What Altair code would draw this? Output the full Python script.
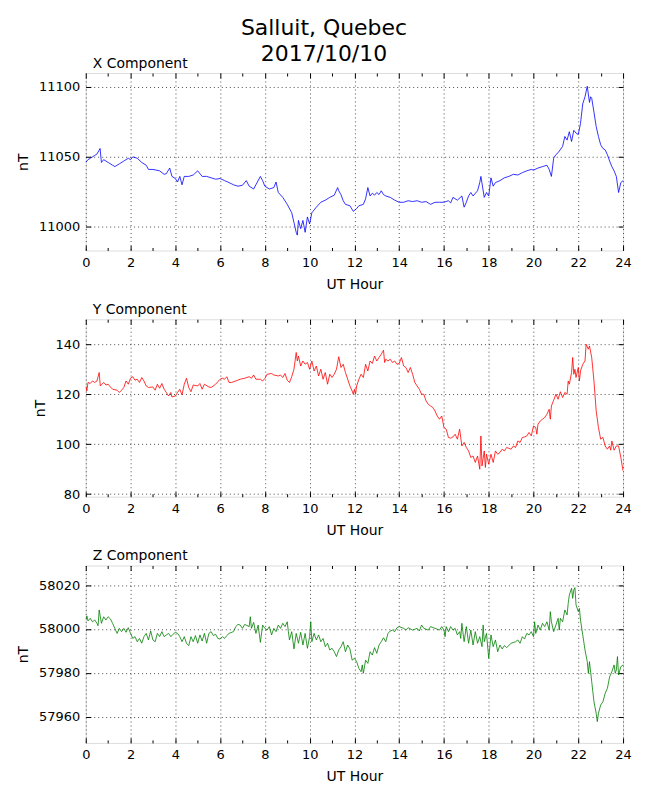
import altair as alt
import pandas as pd

FONT = "DejaVu Sans"

# ---- X component (nT) ----
x_hours = [0.0, 0.1, 0.2, 0.3, 0.4, 0.5, 0.64, 0.7, 0.8, 1.0, 1.2, 1.3, 1.5, 1.7, 1.9, 2.0, 2.1, 2.3, 2.5, 2.7,
           2.8, 3.0, 3.3, 3.5, 3.6, 3.75, 3.85, 4.0, 4.1, 4.2, 4.3, 4.4, 4.6, 4.8, 5.0, 5.2, 5.4, 5.6, 5.8, 6.0,
           6.2, 6.4, 6.6, 6.8, 7.0, 7.17, 7.3, 7.5, 7.6, 7.8, 7.9, 8.0, 8.2, 8.4, 8.5, 8.6, 8.8, 9.0, 9.2, 9.3,
           9.4, 9.45, 9.5, 9.6, 9.7, 9.8, 9.9, 10.0, 10.1, 10.3, 10.5, 10.7, 10.9, 11.1, 11.25, 11.3, 11.4, 11.5, 11.6, 11.8,
           11.95, 12.1, 12.2, 12.4, 12.5, 12.6, 12.7, 12.8, 12.9, 13.0, 13.1, 13.2, 13.3, 13.4, 13.6, 13.8, 14.0, 14.2, 14.4, 14.6,
           14.8, 15.0, 15.2, 15.4, 15.6, 15.8, 16.0, 16.2, 16.3, 16.4, 16.6, 16.8, 16.9, 17.0, 17.1, 17.2, 17.3, 17.5, 17.6, 17.65,
           17.8, 17.9, 18.0, 18.1, 18.2, 18.3, 18.5, 18.7, 18.9, 19.1, 19.3, 19.5, 19.7, 19.9, 20.0, 20.2, 20.4, 20.6, 20.7, 20.8,
           20.9, 21.0, 21.1, 21.3, 21.4, 21.5, 21.6, 21.7, 21.8, 21.9, 22.0, 22.1, 22.2, 22.3, 22.4, 22.5, 22.55, 22.6, 22.7, 22.8,
           22.9, 23.0, 23.1, 23.2, 23.3, 23.4, 23.5, 23.6, 23.7, 23.8, 23.9, 24.0]
x_values = [11046, 11048, 11049, 11050, 11051, 11052, 11056, 11046, 11048, 11046, 11044, 11043, 11045, 11047, 11049, 11048, 11050, 11049, 11046, 11044,
            11041, 11041, 11040, 11037.5, 11038, 11042, 11036, 11034.5, 11032, 11036, 11030, 11036, 11036, 11037, 11040, 11036, 11036, 11035, 11034, 11034.5,
            11033, 11031.6, 11030, 11029, 11029.7, 11033, 11029, 11027, 11030, 11036, 11033, 11029, 11027, 11028, 11032, 11024.5, 11021, 11016, 11010, 11003,
            10996, 10994, 11004.5, 10998.6, 11004.5, 10996, 11007, 11002, 11010, 11014, 11017.5, 11019, 11021, 11022.6, 11028, 11025.7, 11023, 11018.6, 11016, 11015,
            11011, 11013, 11015, 11016, 11020, 11028, 11022, 11024, 11022.6, 11024.5, 11023, 11025.7, 11023, 11022, 11021, 11019, 11017.5, 11017.5, 11018.6, 11018,
            11018.6, 11017.5, 11018, 11016, 11017.5, 11017.5, 11017.5, 11018.6, 11017, 11021, 11019, 11022, 11014, 11017.5, 11022, 11024.5, 11022, 11025.7, 11031.6, 11036,
            11021, 11024.5, 11022, 11035, 11029, 11031.6, 11033, 11035, 11036, 11037.5, 11037, 11038.7, 11040, 11041, 11040.5, 11042, 11043, 11044, 11041, 11036,
            11049, 11051.6, 11053, 11057.5, 11064.6, 11062, 11068, 11061, 11069, 11067, 11066, 11074, 11088, 11093, 11100.5, 11089, 11093, 11092, 11082, 11071.7,
            11064.6, 11058.7, 11056, 11055, 11051.6, 11047, 11043, 11040, 11036, 11024.5, 11031.6, 11033]

# ---- Y component (nT) ----
y_hours = [0.0, 0.05, 0.1, 0.2, 0.3, 0.4, 0.5, 0.6, 0.65, 0.8, 0.9, 1.0, 1.1, 1.2, 1.4, 1.5, 1.6, 1.7, 1.8, 1.9,
           2.0, 2.1, 2.2, 2.3, 2.4, 2.5, 2.6, 2.7, 2.8, 3.0, 3.1, 3.2, 3.3, 3.4, 3.5, 3.6, 3.7, 3.8, 3.85, 4.0,
           4.1, 4.2, 4.3, 4.4, 4.5, 4.6, 4.7, 4.8, 5.0, 5.1, 5.2, 5.3, 5.5, 5.6, 5.8, 6.0, 6.1, 6.2, 6.3, 6.4,
           6.5, 6.7, 6.9, 7.1, 7.3, 7.4, 7.5, 7.6, 7.8, 7.9, 8.0, 8.1, 8.3, 8.4, 8.6, 8.7, 8.8, 8.9, 9.0, 9.1,
           9.2, 9.3, 9.4, 9.45, 9.5, 9.6, 9.7, 9.8, 9.9, 10.0, 10.1, 10.2, 10.3, 10.4, 10.5, 10.6, 10.7, 10.8, 10.9, 11.0,
           11.1, 11.2, 11.3, 11.4, 11.5, 11.6, 11.7, 11.8, 11.9, 11.95, 12.0, 12.05, 12.1, 12.2, 12.3, 12.4, 12.5, 12.6, 12.7, 12.8,
           12.9, 13.0, 13.1, 13.2, 13.3, 13.35, 13.4, 13.5, 13.6, 13.7, 13.8, 13.9, 14.0, 14.1, 14.2, 14.3, 14.4, 14.5, 14.6, 14.7,
           14.8, 14.9, 15.0, 15.1, 15.2, 15.3, 15.4, 15.5, 15.6, 15.7, 15.8, 15.9, 16.0, 16.1, 16.2, 16.3, 16.4, 16.5, 16.6, 16.7,
           16.8, 16.9, 17.0, 17.1, 17.2, 17.3, 17.4, 17.5, 17.6, 17.65, 17.7, 17.8, 17.85, 17.9, 18.0, 18.1, 18.2, 18.3, 18.4, 18.5,
           18.6, 18.7, 18.8, 19.0, 19.1, 19.2, 19.3, 19.4, 19.5, 19.6, 19.7, 19.8, 19.9, 20.0, 20.1, 20.15, 20.2, 20.3, 20.4, 20.5,
           20.6, 20.7, 20.75, 20.8, 20.9, 21.0, 21.1, 21.2, 21.3, 21.4, 21.5, 21.55, 21.6, 21.7, 21.75, 21.8, 21.85, 21.9, 22.0, 22.05,
           22.1, 22.2, 22.3, 22.35, 22.45, 22.5, 22.6, 22.7, 22.8, 22.9, 23.0, 23.1, 23.2, 23.3, 23.4, 23.45, 23.5, 23.6, 23.7, 23.8,
           23.9, 24.0]
y_values = [123.3, 121.3, 124.7, 124.3, 125.3, 124.7, 125.3, 128.7, 123.3, 124.7, 123.7, 124.0, 122.9, 122.0, 121.6, 120.7, 121.6, 122.7, 125.3, 124.0,
            126.4, 127.0, 125.6, 126.0, 124.7, 126.7, 125.3, 123.3, 122.7, 122.9, 121.6, 124.0, 122.4, 124.3, 122.0, 120.7, 119.3, 120.7, 118.9, 119.3,
            120.7, 122.0, 119.7, 124.0, 126.4, 122.7, 121.0, 123.7, 123.3, 124.3, 122.0, 124.0, 122.9, 122.7, 124.0, 126.0, 126.4, 126.0, 127.0, 124.7,
            124.7, 125.3, 126.0, 126.4, 127.0, 126.4, 127.7, 126.0, 126.0, 125.3, 126.3, 128.0, 128.3, 127.7, 127.3, 127.7, 126.7, 128.3, 125.6, 124.7,
            127.0, 130.0, 136.7, 133.3, 135.3, 131.3, 133.3, 132.0, 132.7, 130.0, 133.3, 129.3, 131.3, 127.3, 130.0, 126.0, 128.7, 124.0, 128.0, 126.7,
            128.0, 130.0, 135.0, 130.7, 132.0, 128.7, 126.0, 123.3, 121.3, 120.0, 122.0, 120.0, 123.3, 126.0, 128.0, 126.7, 132.0, 129.3, 133.3, 132.3,
            135.3, 133.3, 134.7, 136.0, 137.6, 132.7, 134.0, 133.3, 134.0, 132.7, 133.3, 132.0, 132.3, 134.7, 131.3, 130.7, 128.7, 130.7, 128.0, 124.7,
            123.3, 122.0, 120.0, 120.0, 117.3, 116.0, 115.3, 114.7, 113.3, 111.3, 110.0, 111.3, 106.7, 106.0, 102.7, 102.4, 102.9, 104.0, 102.0, 106.0,
            99.3, 100.7, 98.7, 97.3, 94.7, 95.3, 92.7, 95.3, 90.0, 103.3, 91.3, 97.3, 90.7, 96.0, 92.0, 96.0, 92.7, 97.3, 96.0, 96.7,
            98.0, 97.3, 98.7, 98.0, 99.3, 98.7, 101.3, 100.7, 102.7, 102.9, 103.3, 104.7, 103.3, 107.3, 106.7, 104.0, 108.0, 109.3, 110.0, 110.7,
            112.0, 114.0, 110.0, 115.3, 117.6, 120.0, 118.0, 121.0, 118.7, 120.7, 120.0, 125.3, 124.0, 128.7, 134.7, 128.0, 130.0, 126.7, 130.7, 125.3,
            129.3, 132.0, 133.3, 140.0, 138.0, 139.3, 134.7, 125.3, 113.3, 106.7, 102.0, 102.7, 99.3, 98.0, 99.3, 97.6, 101.3, 97.6, 99.3, 99.3,
            94.7, 89.3]

# ---- Z component (nT) ----
z_hours = [0.0, 0.05, 0.1, 0.2, 0.3, 0.4, 0.5, 0.55, 0.6, 0.7, 0.8, 0.9, 1.0, 1.1, 1.2, 1.3, 1.4, 1.5, 1.6, 1.7,
           1.8, 1.9, 2.0, 2.1, 2.2, 2.3, 2.4, 2.5, 2.6, 2.7, 2.8, 2.9, 3.0, 3.1, 3.2, 3.3, 3.4, 3.5, 3.6, 3.7,
           3.8, 3.9, 4.0, 4.1, 4.2, 4.3, 4.4, 4.5, 4.6, 4.7, 4.8, 4.9, 5.0, 5.1, 5.2, 5.3, 5.4, 5.5, 5.6, 5.7,
           5.8, 5.9, 6.0, 6.1, 6.2, 6.3, 6.4, 6.6, 6.7, 6.8, 6.9, 7.0, 7.1, 7.3, 7.35, 7.4, 7.5, 7.6, 7.7, 7.8,
           7.9, 8.0, 8.1, 8.2, 8.3, 8.4, 8.5, 8.6, 8.7, 8.8, 8.9, 9.0, 9.05, 9.1, 9.2, 9.3, 9.4, 9.5, 9.6, 9.7,
           9.8, 9.9, 10.0, 10.05, 10.1, 10.2, 10.3, 10.4, 10.5, 10.6, 10.7, 10.8, 10.9, 11.0, 11.1, 11.2, 11.3, 11.4, 11.5, 11.6,
           11.7, 11.8, 11.9, 12.0, 12.1, 12.2, 12.3, 12.35, 12.4, 12.5, 12.6, 12.7, 12.8, 12.9, 13.0, 13.1, 13.2, 13.3, 13.4, 13.5,
           13.6, 13.7, 13.8, 13.9, 14.0, 14.2, 14.3, 14.4, 14.6, 14.8, 14.9, 15.0, 15.1, 15.3, 15.4, 15.6, 15.8, 15.9, 16.0, 16.05,
           16.1, 16.2, 16.3, 16.4, 16.5, 16.6, 16.7, 16.75, 16.8, 16.9, 17.0, 17.1, 17.2, 17.3, 17.4, 17.5, 17.6, 17.7, 17.75, 17.8,
           17.9, 18.0, 18.1, 18.2, 18.3, 18.4, 18.5, 18.6, 18.7, 18.8, 19.0, 19.2, 19.3, 19.4, 19.5, 19.6, 19.7, 19.8, 19.9, 20.0,
           20.05, 20.1, 20.2, 20.3, 20.4, 20.5, 20.6, 20.7, 20.75, 20.8, 20.9, 21.0, 21.1, 21.15, 21.2, 21.3, 21.4, 21.5, 21.55, 21.6,
           21.7, 21.75, 21.8, 21.85, 21.9, 22.0, 22.05, 22.1, 22.2, 22.3, 22.4, 22.45, 22.5, 22.6, 22.7, 22.8, 22.85, 22.9, 23.0, 23.1,
           23.2, 23.3, 23.4, 23.5, 23.6, 23.65, 23.7, 23.75, 23.8, 23.9, 24.0]
z_values = [58004.1, 58006.0, 58003.7, 58004.9, 58003.3, 58004.1, 58002.6, 58001.5, 58008.7, 58002.6, 58005.6, 58004.1, 58005.6, 58004.6, 58002.6, 58000.3, 57998.0, 58000.3, 57998.8, 58000.3,
            57998.5, 58000.6, 57998.0, 57995.7, 57996.5, 57994.2, 57995.7, 57993.5, 57996.5, 57998.0, 57995.0, 57999.1, 57995.0, 57994.2, 57998.0, 57996.5, 57998.8, 57996.5, 57997.3, 57998.0,
            57996.5, 57997.6, 57998.5, 57998.0, 57996.5, 57994.2, 57996.5, 57993.5, 57992.4, 57996.5, 57994.2, 57997.0, 57993.5, 57997.3, 57994.5, 57998.0, 57993.5, 57998.0, 57998.8, 57997.0,
            57997.6, 57995.7, 57995.4, 57996.5, 57995.7, 57997.0, 57998.0, 57998.8, 58001.1, 58002.1, 58001.8, 58000.3, 58002.1, 58001.1, 58005.6, 58000.3, 58003.0, 57998.0, 58001.8, 57993.9,
            58001.8, 58000.3, 57999.5, 58001.1, 57997.3, 58000.3, 57998.8, 58001.8, 58000.3, 58002.6, 58001.1, 58003.3, 57998.8, 57995.0, 57998.8, 57990.9, 57998.0, 57993.5, 57998.5, 57992.7,
            57998.0, 57991.2, 57996.5, 58003.3, 57994.2, 57998.0, 57995.0, 57997.3, 57994.2, 57995.7, 57991.9, 57993.5, 57990.4, 57991.2, 57989.6, 57987.4, 57990.4, 57991.9, 57994.2, 57989.6,
            57992.7, 57990.9, 57985.8, 57986.6, 57985.1, 57982.0, 57980.5, 57983.6, 57979.8, 57985.8, 57984.3, 57989.6, 57988.1, 57991.5, 57988.9, 57992.7, 57994.2, 57996.0, 57994.2, 57998.0,
            57999.1, 57999.5, 57998.8, 58000.6, 58001.1, 58000.3, 57999.5, 58000.6, 57999.5, 58000.3, 57999.1, 58001.8, 58000.3, 57999.5, 58001.1, 58000.3, 57999.5, 58001.1, 57999.5, 57996.5,
            58001.1, 57998.8, 58001.1, 57999.5, 58000.3, 57997.3, 57998.8, 57995.7, 58002.6, 57994.2, 58001.1, 57993.5, 57999.5, 57992.7, 57998.8, 57993.5, 57996.5, 57991.9, 58001.8, 57994.2,
            57998.0, 57986.6, 57997.3, 57991.9, 57995.0, 57989.6, 57992.7, 57990.9, 57992.4, 57991.5, 57993.5, 57994.2, 57995.0, 57993.5, 57996.5, 57995.4, 57998.0, 57997.3, 57998.8, 57996.5,
            58003.3, 57998.0, 58001.8, 57999.5, 58002.6, 58001.1, 58003.3, 57999.5, 58007.9, 58003.3, 57998.8, 58001.8, 58004.9, 57999.5, 58004.9, 58003.3, 58008.7, 58006.4, 58011.7, 58015.5,
            58018.6, 58014.0, 58017.8, 58018.9, 58011.0, 58007.9, 58009.4, 58004.1, 57997.3, 57990.4, 57985.1, 57979.8, 57985.1, 57976.0, 57966.8, 57961.5, 57957.7, 57961.5, 57965.3, 57966.8,
            57970.6, 57972.9, 57978.2, 57980.5, 57983.6, 57979.8, 57981.3, 57987.4, 57979.0, 57982.8, 57983.6]

MAJOR_X = list(range(0, 25, 2))
MINOR_X = list(range(1, 24, 2))


def panel(hours, values, color, title, domain, ticks):
    df = pd.DataFrame({"hour": hours, "value": values})
    xs = alt.Scale(domain=[0, 24], nice=False, zero=False)
    ys = alt.Scale(domain=domain, nice=False, zero=False)
    common = dict(domain=False, tickColor="black", tickWidth=1, grid=False, labels=False, title=None)

    line = alt.Chart(df).mark_line(color=color, strokeWidth=0.8, clip=True).encode(
        x=alt.X("hour:Q", scale=xs, axis=alt.Axis(
            values=MAJOR_X, orient="bottom", format="d", domain=False,
            grid=True, gridDash=[1, 3], gridColor="black", gridWidth=0.7, gridOpacity=1,
            tickSize=5, tickColor="black", tickWidth=1, offset=-5,
            labelPadding=6, labelFontSize=13, labelFont=FONT, labelColor="black",
            labelFlush=False, labelOverlap=False,
            title="UT Hour", titleFont=FONT, titleFontSize=14, titleFontWeight="normal",
            titleColor="black", titlePadding=8)),
        y=alt.Y("value:Q", scale=ys, axis=alt.Axis(
            values=ticks, orient="left", format="d", domain=False,
            grid=True, gridDash=[1, 3], gridColor="black", gridWidth=0.7, gridOpacity=1,
            tickSize=5, tickColor="black", tickWidth=1, offset=-5,
            labelPadding=6, labelFontSize=13, labelFont=FONT, labelColor="black",
            labelFlush=False, labelOverlap=False,
            title="nT", titleFont=FONT, titleFontSize=14, titleFontWeight="normal",
            titleColor="black", titlePadding=8)),
    )
    ghost = alt.Chart(df).mark_line(strokeOpacity=0)
    l2 = ghost.encode(
        x=alt.X("hour:Q", scale=xs, axis=alt.Axis(values=MINOR_X, orient="bottom", tickSize=3, offset=-3, **common)),
        y=alt.Y("value:Q", scale=ys, axis=alt.Axis(values=ticks, orient="right", tickSize=5, offset=-5, **common)),
    )
    l3 = ghost.encode(
        x=alt.X("hour:Q", scale=xs, axis=alt.Axis(values=MAJOR_X, orient="top", tickSize=5, offset=-5, **common)),
        y=alt.Y("value:Q", scale=ys, axis=None),
    )
    l4 = ghost.encode(
        x=alt.X("hour:Q", scale=xs, axis=alt.Axis(values=MINOR_X, orient="top", tickSize=3, offset=-3, **common)),
        y=alt.Y("value:Q", scale=ys, axis=None),
    )
    return alt.layer(line, l2, l3, l4).resolve_axis(x="independent", y="independent").properties(
        width=539, height=178,
        title=alt.TitleParams(title, anchor="start", frame="group", font=FONT, fontSize=14,
                              fontWeight="normal", color="black", dx=7, offset=2),
    )


p1 = panel(x_hours, x_values, "#0000ff", "X Component", [10983, 11110], [11000, 11050, 11100])
p2 = panel(y_hours, y_values, "#ff0000", "Y Component", [79, 150], [80, 100, 120, 140])
p3 = panel(z_hours, z_values, "#008000", "Z Component", [57948, 58029], [57960, 57980, 58000, 58020])

chart = alt.vconcat(p1, p2, p3, spacing=69, bounds="flush").properties(
    title=alt.TitleParams(["Salluit, Quebec", "2017/10/10"], anchor="middle", font=FONT, fontSize=22,
                          fontWeight="normal", color="black", lineHeight=26, offset=-10),
    padding={"left": 8, "top": 8, "right": 10, "bottom": 5},
).configure_view(stroke="black", strokeWidth=1.2).configure(background="white")

chart.save("out.html", embed_options={"renderer": "svg", "actions": False})
